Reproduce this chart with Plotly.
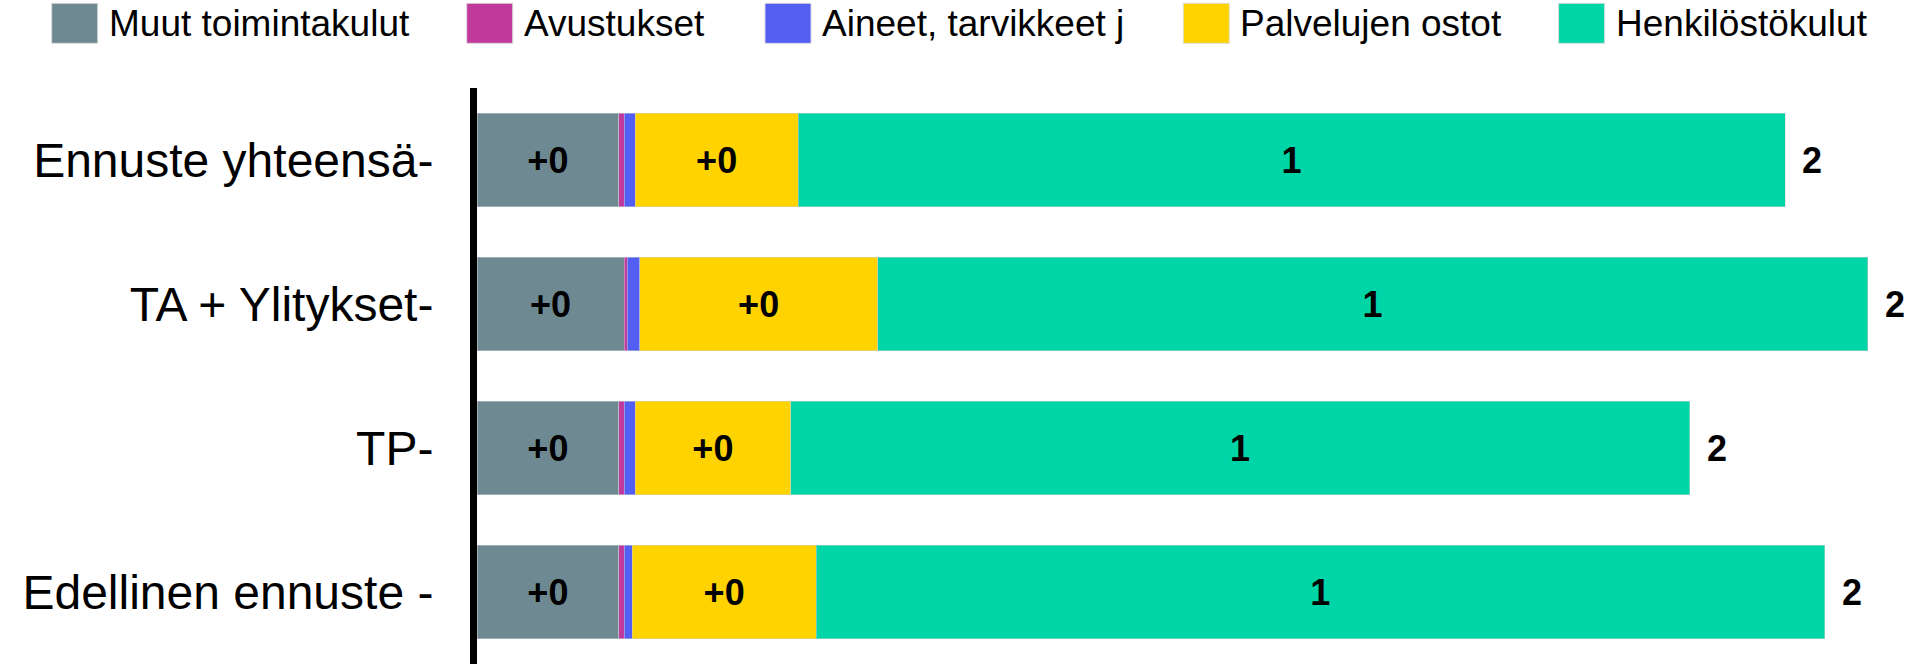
import plotly.graph_objects as go

# categories, top to bottom
categories = ["Ennuste yhteensä-", "TA + Ylitykset-", "TP-", "Edellinen ennuste -"]

series_names = ["Muut toimintakulut", "Avustukset", "Aineet, tarvikkeet j",
                "Palvelujen ostot", "Henkilöstökulut"]
colors = ["#6E8992", "#C03A9D", "#535FF2", "#FFD300", "#00D5A8"]

# values (M€) per category
muut_toimintakulut = [0.189, 0.196, 0.189, 0.189]
avustukset = [0.007, 0.004, 0.007, 0.007]
aineet = [0.015, 0.017, 0.015, 0.011]
palvelujen_ostot = [0.217, 0.317, 0.207, 0.245]
henkilostokulut = [1.316, 1.320, 1.199, 1.345]

series = [muut_toimintakulut, avustukset, aineet, palvelujen_ostot, henkilostokulut]
templates = ["+%{x:.0f}", None, None, "+%{x:.0f}", "%{x:.0f}"]
totals = [sum(v) for v in zip(*series)]

FONT = "Liberation Sans, Arial, sans-serif"
W, H = 1922, 664
ML, MT = 477, 88
PX_PER_UNIT = 750

fig = go.Figure()
for name, vals, col, tt in zip(series_names, series, colors, templates):
    fig.add_trace(go.Bar(
        y=categories, x=vals, orientation="h", name=name,
        marker=dict(color=col, line=dict(color="#cfcfcf", width=0.5)),
        texttemplate=tt, textposition="inside" if tt else "none",
        insidetextanchor="middle", textangle=0, constraintext="none",
        textfont=dict(size=36, color="black", family=FONT, weight="bold"),
        showlegend=False,
    ))

# totals at bar ends
for cat, tot in zip(categories, totals):
    fig.add_annotation(x=tot, y=cat, text=f"{tot:.0f}", showarrow=False,
                       xanchor="left", xshift=15,
                       font=dict(size=36, color="black", family=FONT, weight="bold"))

# legend drawn by hand so the swatches can be large
legend_x = [51.7, 466.7, 765, 1183.3, 1558.6]
plot_w, plot_h = W - ML, H - MT
def px(x):
    return (x - ML) / plot_w
def py(y):
    return (H - y) / plot_h

for sx, name, col in zip(legend_x, series_names, colors):
    fig.add_shape(type="rect", xref="paper", yref="paper",
                  x0=px(sx), x1=px(sx + 46), y0=py(43.3), y1=py(3.3),
                  fillcolor=col, line=dict(color="rgba(220,220,220,0.9)", width=1))
    fig.add_annotation(xref="paper", yref="paper", x=px(sx + 55), y=py(23.5),
                       text=name, showarrow=False, xanchor="left", yanchor="middle",
                       font=dict(size=37, color="black", family=FONT))

fig.update_layout(
    width=W, height=H, autosize=False,
    margin=dict(l=ML, r=0, t=MT, b=0, pad=0),
    barmode="stack", bargap=0.354,
    plot_bgcolor="white", paper_bgcolor="white",
    font=dict(family=FONT, color="black"),
)
fig.update_xaxes(range=[0, plot_w / PX_PER_UNIT], visible=False)
fig.update_yaxes(autorange="reversed", showline=True, linecolor="black", linewidth=7,
                 ticks="", showgrid=False, zeroline=False,
                 tickfont=dict(size=48, color="black", family=FONT),
                 ticklabelstandoff=27)

fig.write_html("out.html", config={"displayModeBar": False},
               post_script="document.body.style.margin='0';")
